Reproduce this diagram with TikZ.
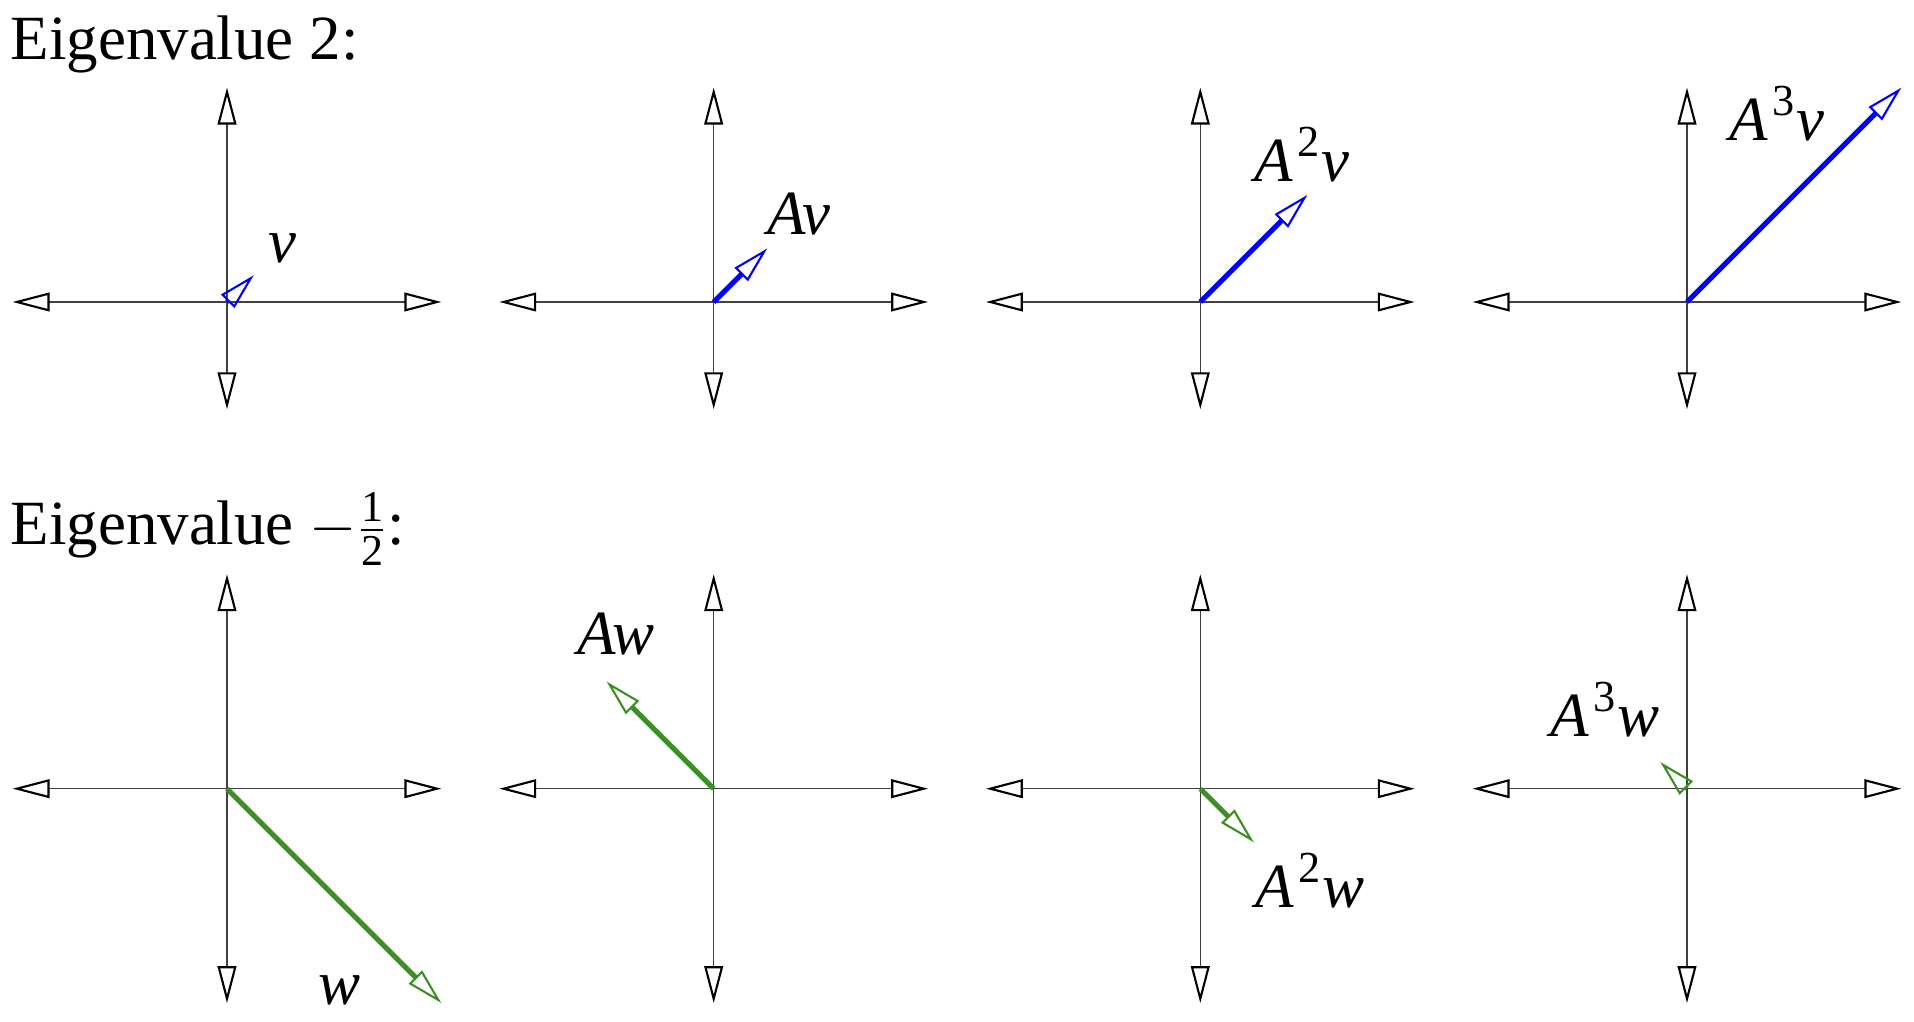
\documentclass[tikz,border=0pt]{standalone}
\usepackage{fontspec}
\setmainfont{Liberation Serif}
\usepackage{amsmath}
\usetikzlibrary{arrows.meta}
\definecolor{vblue}{RGB}{0,0,255}
\definecolor{wgreen}{RGB}{62,142,38}
\newcommand{\spow}[1]{\kern0.06em\raisebox{0.40em}{\fontsize{12.6}{12}\selectfont #1}\kern0.03em}
\begin{document}
\begin{tikzpicture}[x=0.01cm,y=-0.01cm,
  axis/.style={draw=black!75, line width=0.45pt,
    {Triangle[open,length=10.5pt,width=5.3pt,line width=0.6pt,color=black]}-{Triangle[open,length=10.5pt,width=5.3pt,line width=0.6pt,color=black]}},
  vec/.style={line width=1.45pt, -{Triangle[open,length=10.5pt,width=5.3pt,line width=0.6pt]}},
  vecv/.style={vec, draw=vblue},
  vecw/.style={vec, draw=wgreen},
  lab/.style={anchor=base west, inner sep=0pt, font=\fontsize{17.9}{21}\selectfont}]
\useasboundingbox (0,0) rectangle (1914,1022);

% titles
\node[lab] (title1) at (10,60) {Eigenvalue 2:};
\node[lab] (title2) at (10,545) {Eigenvalue $-\frac{\textrm{1}}{\textrm{2}}$:};

% axes
\foreach \i/\x in {1/227,2/713.7,3/1200.3,4/1687}{
  \coordinate (t\i) at (\x,302);
  \coordinate (tl\i) at (\x-214.4,302);
  \coordinate (tr\i) at (\x+214.4,302);
  \coordinate (tu\i) at (\x,302-214.4);
  \coordinate (td\i) at (\x,302+107.2);
  \draw[axis] (tl\i) -- (tr\i);
  \draw[axis] (td\i) -- (tu\i);
  \coordinate (b\i) at (\x,788.7);
  \coordinate (bl\i) at (\x-214.4,788.7);
  \coordinate (br\i) at (\x+214.4,788.7);
  \coordinate (bu\i) at (\x,788.7-214.4);
  \coordinate (bd\i) at (\x,788.7+214.4);
  \draw[axis] (bl\i) -- (br\i);
  \draw[axis] (bd\i) -- (bu\i);
}

% eigenvalue 2 vectors
\coordinate (v1) at (227+26.8,302-26.8);
\coordinate (v2) at (713.7+53.6,302-53.6);
\coordinate (v3) at (1200.3+107.2,302-107.2);
\coordinate (v4) at (1687+214.4,302-214.4);
\draw[vecv] (t1) -- (v1);
\draw[vecv] (t2) -- (v2);
\draw[vecv] (t3) -- (v3);
\draw[vecv] (t4) -- (v4);

% eigenvalue -1/2 vectors
\coordinate (w1) at (227+214.4,788.7+214.4);
\coordinate (w2) at (713.7-107.2,788.7-107.2);
\coordinate (w3) at (1200.3+53.6,788.7+53.6);
\coordinate (w4) at (1687-26.8,788.7-26.8);
\draw[vecw] (b1) -- (w1);
\draw[vecw] (b2) -- (w2);
\draw[vecw] (b3) -- (w3);
\draw[vecw] (b4) -- (w4);

% labels
\node[lab] (lv1) at (268,263) {\textit{v}};
\node[lab] (lv2) at (767,235) {\textit{Av}};
\node[lab] (lv3) at (1254,182) {\textit{A}\spow{2}\textit{v}};
\node[lab] (lv4) at (1729,141) {\textit{A}\spow{3}\textit{v}};
\node[lab] (lw1) at (318,1005) {\textit{w}};
\node[lab] (lw2) at (577,655) {\textit{Aw}};
\node[lab] (lw3) at (1255,908) {\textit{A}\spow{2}\textit{w}};
\node[lab] (lw4) at (1550,737) {\textit{A}\spow{3}\textit{w}};
\end{tikzpicture}
\end{document}
